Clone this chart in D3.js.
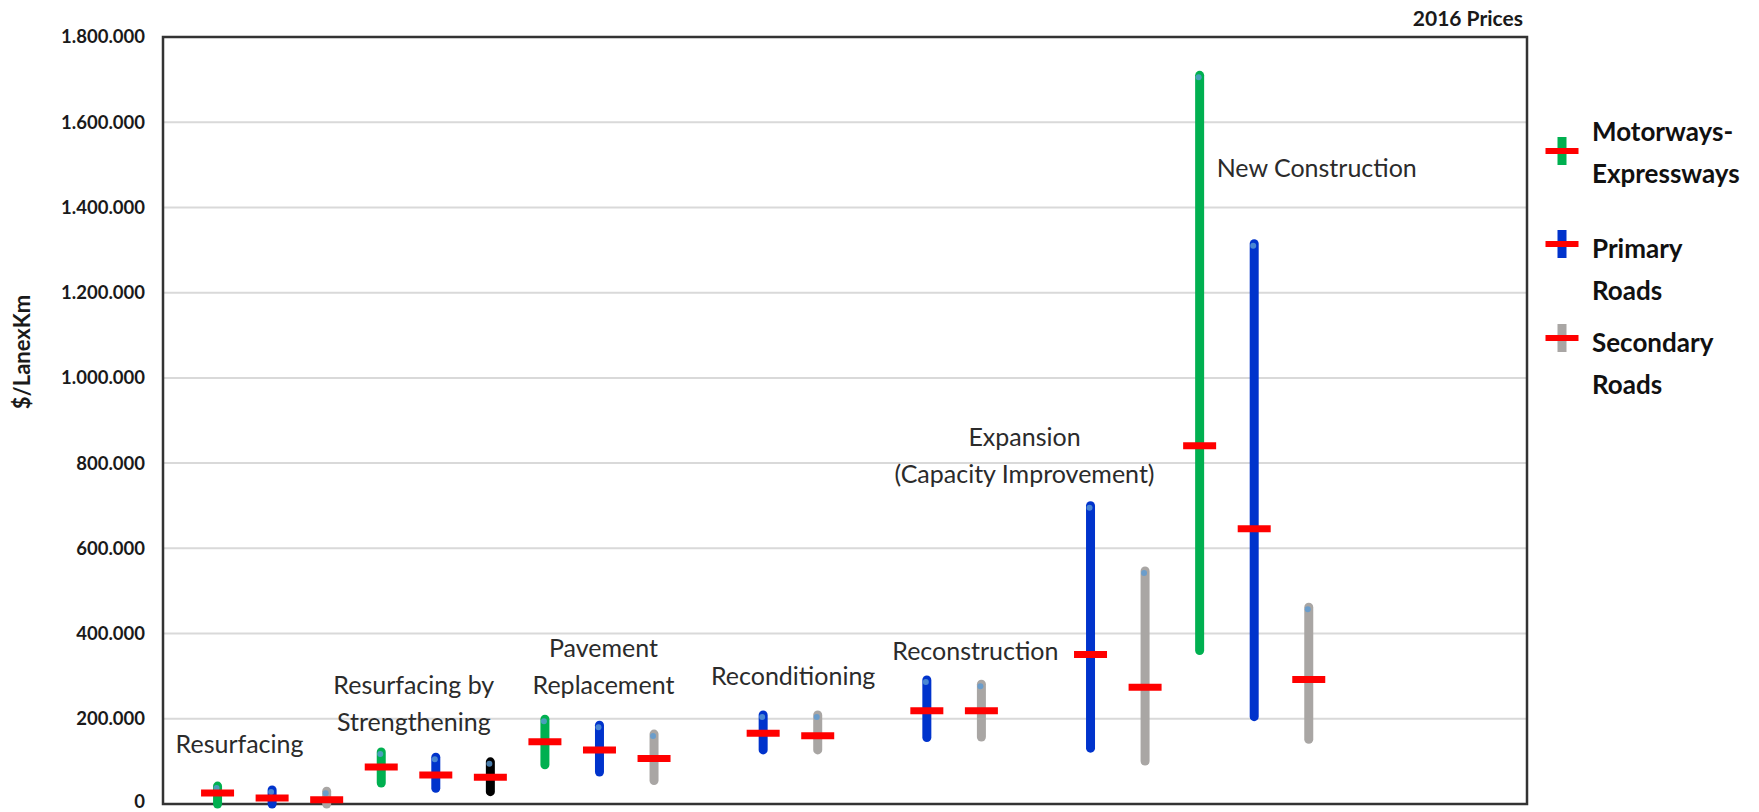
<!DOCTYPE html>
<html>
<head>
<meta charset="utf-8">
<script src="https://cdn.jsdelivr.net/npm/d3@7"></script>
<style>
  body { margin: 0; background: #fff; }
  svg { display: block; font-family: Lato, "Open Sans", sans-serif; }
</style>
</head>
<body>
<svg id="chart" width="1759" height="812"></svg>
<script>
// slots along the x axis (gaps keep the spacing of the original)
const xSlots = ["", "Res-M", "Res-P", "Res-S", "RbS-M", "RbS-P", "RbS-S",
  "PR-M", "PR-P", "PR-S", "gap-a", "Rc-P", "Rc-S", "gap-b", "Rn-P", "Rn-S",
  "gap-c", "Ex-P", "Ex-S", "NC-M", "NC-P", "NC-S", "gap-d", "gap-e", "gap-f", "gap-g"];

const roadTypes = ["Motorways", "Primary", "Secondary"];
const legendLabels = [["Motorways-", "Expressways"], ["Primary", "Roads"], ["Secondary", "Roads"]];

// one entry per drawn bar
const barSlots = ["Res-M", "Res-P", "Res-S", "RbS-M", "RbS-P", "RbS-S", "PR-M", "PR-P", "PR-S",
  "Rc-P", "Rc-S", "Rn-P", "Rn-S", "Ex-P", "Ex-S", "NC-M", "NC-P", "NC-S"];
const barRoad = ["Motorways", "Primary", "Secondary", "Motorways", "Primary", "Secondary",
  "Motorways", "Primary", "Secondary", "Primary", "Secondary", "Primary", "Secondary",
  "Primary", "Secondary", "Motorways", "Primary", "Secondary"];
const minCost = [0, 0, 0, 49000, 37000, 29000, 92000, 75000, 55000,
  127000, 127000, 156000, 157000, 131000, 101000, 360000, 205000, 152000];
const maxCost = [42000, 33000, 30000, 122000, 110000, 99000, 199000, 185000, 164000,
  209000, 209000, 291000, 281000, 700000, 547000, 1710000, 1315000, 462000];
const meanCost = [26000, 14000, 10000, 87000, 68000, 63000, 146000, 127000, 107000,
  166000, 160000, 219000, 219000, 351000, 274000, 841000, 646000, 292000];

const yTicks = [0, 200000, 400000, 600000, 800000, 1000000, 1200000, 1400000, 1600000, 1800000];

// group captions: text lines, the slot they hang from and the value of the first baseline
const captions = [
  { lines: ["Resurfacing"], slot: "Res-M", value: 119500, dx: 22, anchor: "middle" },
  { lines: ["Resurfacing by", "Strengthening"], slot: "RbS-P", value: 258000, dx: -22, anchor: "middle" },
  { lines: ["Pavement", "Replacement"], slot: "PR-P", value: 344500, dx: 4, anchor: "middle" },
  { lines: ["Reconditioning"], slot: "Rc-P", value: 279000, dx: 30, anchor: "middle" },
  { lines: ["Reconstruction"], slot: "Rn-S", value: 337500, dx: -6, anchor: "middle" },
  { lines: ["Expansion", "(Capacity Improvement)"], slot: "Ex-P", value: 839000, dx: -66, anchor: "middle" },
  { lines: ["New Construction"], slot: "NC-M", value: 1472000, dx: 17, anchor: "start" }
];

const margin = { top: 37, right: 232, bottom: 8, left: 163 };
const width = 1759, height = 812;

const svg = d3.select("#chart");

const x = d3.scalePoint()
  .domain(xSlots)
  .range([margin.left, width - margin.right])
  .padding(0);

const y = d3.scaleLinear()
  .domain([0, 1800000])
  .range([height - margin.bottom, margin.top]);

const color = d3.scaleOrdinal()
  .domain(roadTypes)
  .range(["#00b050", "#0033cc", "#a9a6a4"]);
const colorOverride = { "RbS-S": "#000000" };

const locale = d3.formatLocale({ decimal: ",", thousands: ".", grouping: [3], currency: ["$", ""] });
const fmt = locale.format(",d");

// gridlines
svg.append("g")
  .selectAll("line")
  .data(yTicks.filter(d => d > 0))
  .join("line")
    .attr("x1", margin.left)
    .attr("x2", width - margin.right)
    .attr("y1", d => y(d))
    .attr("y2", d => y(d))
    .attr("stroke", "#d9d9d9")
    .attr("stroke-width", 2);

// y axis labels
const yAxis = d3.axisLeft(y).tickValues(yTicks).tickFormat(fmt).tickSize(0).tickPadding(18);
svg.append("g")
  .attr("transform", `translate(${margin.left},0)`)
  .call(yAxis)
  .call(g => g.select(".domain").remove())
  .selectAll("text")
    .attr("font-family", "Lato, sans-serif")
    .attr("font-size", 18.5)
    .attr("font-weight", "bold")
    .attr("fill", "#1a1a1a")
    .attr("dy", d => d === 0 ? "0.2em" : "0.32em");

// plot frame
svg.append("rect")
  .attr("x", margin.left)
  .attr("y", margin.top)
  .attr("width", width - margin.right - margin.left)
  .attr("height", y(0) - margin.top)
  .attr("fill", "none")
  .attr("stroke", "#333")
  .attr("stroke-width", 2.5);

// y axis title
svg.append("text")
  .attr("transform", `translate(30,352) rotate(-90)`)
  .attr("text-anchor", "middle")
  .attr("font-size", 22)
  .attr("font-weight", "bold")
  .attr("fill", "#1a1a1a")
  .text("$/LanexKm");

svg.append("text")
  .attr("x", 1523)
  .attr("y", 26)
  .attr("text-anchor", "end")
  .attr("font-size", 21)
  .attr("font-weight", "bold")
  .attr("fill", "#1a1a1a")
  .text("2016 Prices");

// range bars
const bars = barSlots.map((s, i) => ({
  slot: s, road: barRoad[i], min: minCost[i], max: maxCost[i], mean: meanCost[i]
}));

const barG = svg.append("g");
barG.selectAll("line.range")
  .data(bars)
  .join("line")
    .attr("class", "range")
    .attr("x1", d => x(d.slot))
    .attr("x2", d => x(d.slot))
    .attr("y1", d => y(d.min))
    .attr("y2", d => y(d.max))
    .attr("stroke", d => colorOverride[d.slot] || color(d.road))
    .attr("stroke-width", 9)
    .attr("stroke-linecap", "round");

// small marker at the top of each bar
barG.selectAll("circle.top")
  .data(bars)
  .join("circle")
    .attr("class", "top")
    .attr("cx", d => x(d.slot) - 1)
    .attr("cy", d => y(d.max) + 2)
    .attr("r", 3)
    .attr("fill", "#5b9bd5")
    .attr("opacity", 0.8);

// mean marks
barG.selectAll("line.mean")
  .data(bars)
  .join("line")
    .attr("class", "mean")
    .attr("x1", d => x(d.slot) - 16.5)
    .attr("x2", d => x(d.slot) + 16.5)
    .attr("y1", d => y(d.mean))
    .attr("y2", d => y(d.mean))
    .attr("stroke", "#ff0000")
    .attr("stroke-width", 7);

// captions
captions.forEach(c => {
  const cx = x(c.slot) + c.dx;
  const t = svg.append("text")
    .attr("x", cx)
    .attr("y", y(c.value))
    .attr("text-anchor", c.anchor)
    .attr("font-size", 25)
    .attr("fill", "#2b2b2b");
  c.lines.forEach((l, i) => {
    t.append("tspan").attr("x", cx).attr("dy", i === 0 ? 0 : 37).text(l);
  });
});

// legend
const lg = svg.append("g");
const markerY = [151, 244, 338];
const textY = [141, 258, 352];
roadTypes.forEach((r, i) => {
  const g = lg.append("g");
  g.append("rect").attr("x", 1557.5).attr("y", markerY[i] - 14).attr("width", 9).attr("height", 28).attr("fill", color(r));
  g.append("rect").attr("x", 1545.5).attr("y", markerY[i] - 3).attr("width", 33).attr("height", 6).attr("fill", "#ff0000");
  const t = g.append("text")
    .attr("x", 1592)
    .attr("y", textY[i])
    .attr("font-size", 26)
    .attr("font-weight", "bold")
    .attr("fill", "#111");
  legendLabels[i].forEach((l, j) => {
    t.append("tspan").attr("x", 1592).attr("dy", j === 0 ? 0 : 42).text(l);
  });
});
</script>
</body>
</html>
